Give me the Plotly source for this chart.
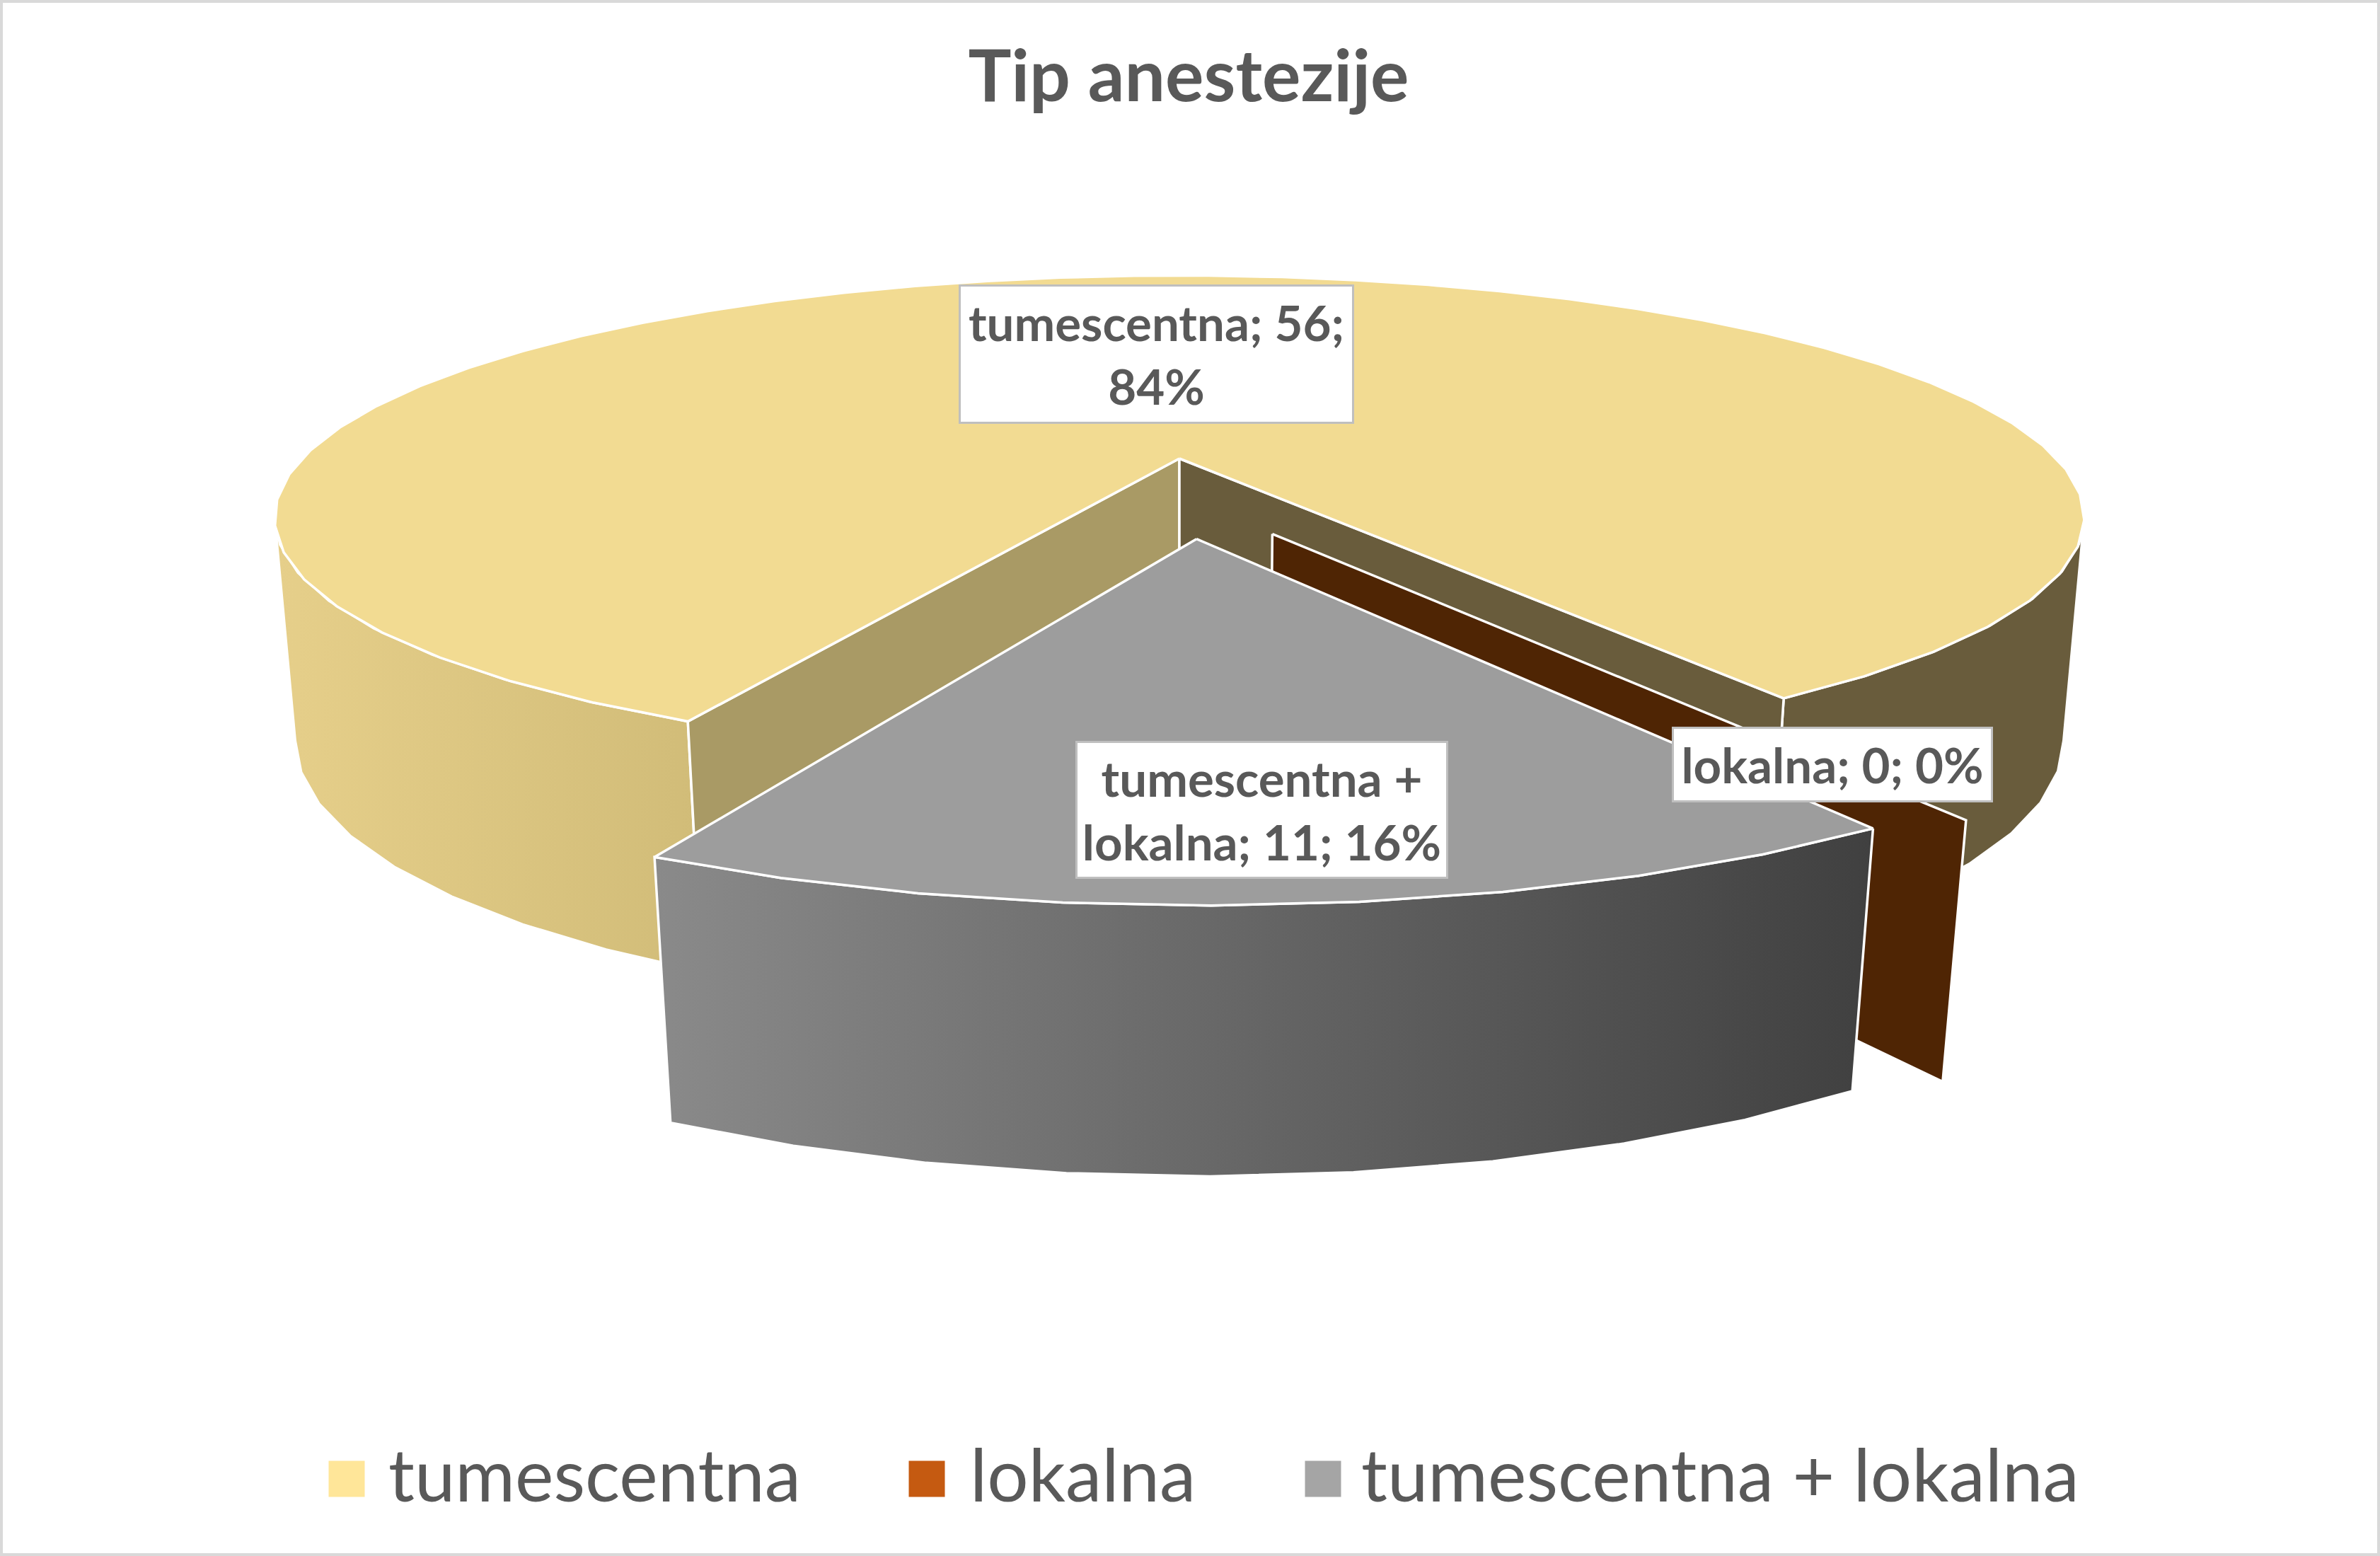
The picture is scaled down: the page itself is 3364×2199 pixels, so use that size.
import math
import plotly.graph_objects as go

# Data
categories = ['tumescentna', 'lokalna', 'tumescentna + lokalna']
values = [56, 0, 11]
label_breaks = ['tumescentna; 56;<br>84%', 'lokalna; 0; 0%', 'tumescentna +<br>lokalna; 11; 16%']
legend_colors = ['#ffe699', '#c55a11', '#a5a5a5']

TITLE = 'Tip anestezije'
WIDTH, HEIGHT = 3364, 2199
TEXT = '#595959'
FONT = 'Lato'

# Camera of the fake 3D pie, in page pixels
X0, Y0 = 1667, 648
A, B, C = 1240, 322, 311
K, D = 0.245, 0.022
START = 205.9       # first slice angle, clockwise from the back
GRAY_OFFSET = (0.018, 0.325)
LOKALNA_OFFSET = (0.098, 0.306)
ARC_STEP = 6.0      # the original ellipse is visibly made of short segments
# angles where the side of the pie meets its outline
LEFT_EDGE, RIGHT_EDGE = 256.0, 104.0


def project(phi, r=1.0, z=0.0, offset=(0.0, 0.0)):
    """Project a point of the pie to the page."""
    rad = math.radians(phi)
    px = r * math.sin(rad) + offset[0]
    py = -r * math.cos(rad) + offset[1]
    w0 = 1 - K * py
    w = w0 + D * z
    return X0 + A * px / w, Y0 + (B * py + C * z * w0 ** 0.26) / w


def arc(a, b, z=0.0, offset=(0.0, 0.0)):
    steps = max(2, int(abs(b - a) / ARC_STEP))
    return [project(a + (b - a) * i / steps, 1.0, z, offset) for i in range(steps + 1)]


def add_poly(fig, pts, color=None, gradient=None):
    xs = [p[0] for p in pts] + [pts[0][0]]
    ys = [p[1] for p in pts] + [pts[0][1]]
    kw = dict(fillcolor=color) if color else dict(
        fillgradient=dict(type='horizontal', colorscale=gradient))
    fig.add_trace(go.Scatter(x=xs, y=ys, mode='lines', fill='toself',
                             line=dict(color='white', width=3.5),
                             hoverinfo='skip', showlegend=False, **kw))


def rim(a, b, offset=(0.0, 0.0)):
    return arc(a, b, 0, offset) + arc(b, a, 1, offset)


def cut_face(phi, offset=(0.0, 0.0)):
    return [project(phi, 0, 0, offset), project(phi, 1, 0, offset),
            project(phi, 1, 1, offset), project(phi, 0, 1, offset)]


total = sum(values)
yellow_start = START
yellow_end = yellow_start + 360 * values[0] / total
gray_start = yellow_end + 360 * values[1] / total
gray_end = gray_start + 360 * values[2] / total

fig = go.Figure()

# back to front
add_poly(fig, rim(RIGHT_EDGE, yellow_end - 360), color='#695c3c')
add_poly(fig, rim(yellow_start, LEFT_EDGE), gradient=[[0, '#e6cf8a'], [1, '#d1bc78']])
add_poly(fig, cut_face(yellow_start), color='#a99a65')
add_poly(fig, cut_face(yellow_end), color='#695c3c')
add_poly(fig, [project(0, 0)] + arc(yellow_start, yellow_end), color='#f2db92')
add_poly(fig, cut_face(yellow_end, LOKALNA_OFFSET), color='#4f2504')
add_poly(fig, rim(gray_start, gray_end, GRAY_OFFSET), gradient=[[0, '#8a8a8a'], [1, '#404040']])
add_poly(fig, [project(0, 0, 0, GRAY_OFFSET)] + arc(gray_start, gray_end, 0, GRAY_OFFSET), color='#9d9d9d')

# data labels
label_boxes = [(1634, 500, 553, 191), (2590, 1080, 448, 101), (1783, 1144, 521, 189)]
annotations = []
for text, (x, y, w, h) in zip(label_breaks, label_boxes):
    annotations.append(dict(x=x, y=y, xref='x', yref='y', text='<b>%s</b>' % text, showarrow=False,
                            width=w, height=h, align='center', valign='middle',
                            bgcolor='white', bordercolor='#bfbfbf', borderwidth=3, borderpad=0,
                            font=dict(family=FONT, size=69, color=TEXT)))

# legend
legend_x = [490, 1310, 1870]
legend_text_x = [547, 1369, 1922]
legend_y = 2090
fig.add_trace(go.Scatter(x=legend_x, y=[legend_y] * 3, mode='markers', hoverinfo='skip', showlegend=False,
                         marker=dict(symbol='square', size=51, color=legend_colors, line=dict(width=0))))
for name, x in zip(categories, legend_text_x):
    annotations.append(dict(x=x, y=legend_y - 8, xref='x', yref='y', text=name, showarrow=False,
                            xanchor='left', yanchor='middle',
                            font=dict(family=FONT, size=103, color=TEXT)))

fig.update_layout(
    width=WIDTH,
    height=HEIGHT,
    margin=dict(l=0, r=0, t=0, b=0),
    paper_bgcolor='white',
    plot_bgcolor='white',
    showlegend=False,
    title=dict(text='<b>%s</b>' % TITLE, x=1680 / WIDTH, xanchor='center', y=1 - 107 / HEIGHT, yanchor='middle',
               font=dict(family=FONT, size=102, color=TEXT)),
    xaxis=dict(range=[0, WIDTH], visible=False, fixedrange=True),
    yaxis=dict(range=[HEIGHT, 0], visible=False, fixedrange=True),
    annotations=annotations,
    shapes=[dict(type='rect', xref='paper', yref='paper', x0=0, y0=0, x1=1, y1=1,
                 line=dict(color='#d9d9d9', width=8))],
)

fig.write_html('out.html', config=dict(displayModeBar=False), post_script="document.body.style.margin='0';")
